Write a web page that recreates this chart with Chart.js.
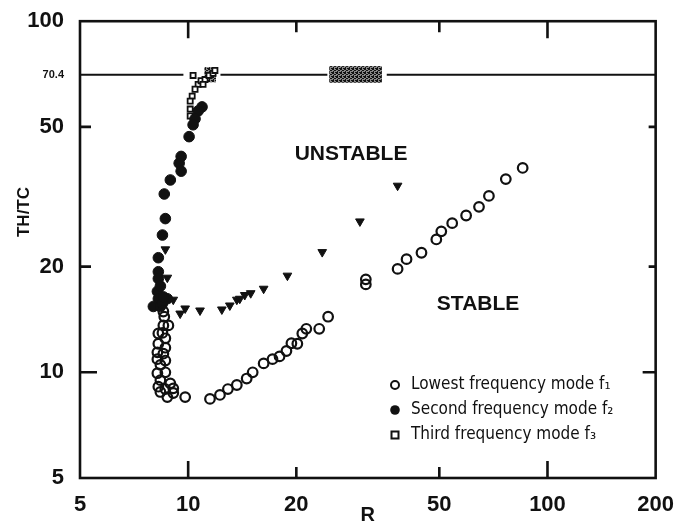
<!DOCTYPE html>
<html>
<head>
<meta charset="utf-8">
<script src="https://cdn.jsdelivr.net/npm/chart.js@4"></script>
<style>
  html, body { margin: 0; padding: 0; background: #fff; }
  #wrap { width: 680px; height: 527px; }
</style>
</head>
<body>
<div id="wrap"><canvas id="grafica" width="680" height="527"></canvas></div>
<script>
// valores (R, TH/TC)
const xTicks = [5, 10, 20, 50, 100, 200];
const yTicks = [5, 10, 20, 50, 70.4, 100];
const nivelRef = 70.4;

// modo f1 (circulos abiertos)
const f1R = [8.53, 8.58, 8.53, 8.81, 8.48, 8.26, 8.64, 8.26, 8.64, 8.21, 8.53, 8.21, 8.64, 8.37, 8.21, 8.64,
  8.37, 8.92, 8.26, 8.64, 9.09, 8.75, 9.09, 8.37, 9.81,
  11.5, 12.26, 12.9, 13.66, 14.55, 15.12, 16.22, 17.17, 17.96, 18.77, 19.38, 20.13, 20.78, 21.32, 23.16, 24.52,
  31.22, 31.22, 38.27, 40.53, 44.6, 49.05, 50.64, 54.3, 59.37, 64.48, 68.71, 76.56, 85.3];
const f1Ratio = [14.9, 14.4, 13.6, 13.6, 12.95, 12.9, 12.5, 12.06, 11.75, 11.4, 11.3, 10.9, 10.8, 10.5, 9.94, 10.0,
  9.5, 9.3, 9.1, 8.96, 9.0, 8.5, 8.73, 8.79, 8.5,
  8.4, 8.62, 8.96, 9.2, 9.6, 10.0, 10.6, 10.9, 11.1, 11.5, 12.1, 12.06, 12.9, 13.3, 13.3, 14.4,
  18.4, 17.8, 19.7, 21.0, 21.9, 23.9, 25.2, 26.6, 27.96, 29.6, 31.8, 35.5, 38.2];

// modo f2 (circulos llenos)
const f2R = [10.93, 10.66, 10.45, 10.32, 10.06, 9.56, 9.44, 9.56, 8.92, 8.58, 8.64, 8.48, 8.26, 8.26, 8.26,
  8.21, 8.26, 8.0, 8.37, 8.75, 8.48, 8.37, 8.53];
const f2Ratio = [57.0, 55.5, 52.7, 50.7, 46.9, 41.2, 39.4, 37.4, 35.3, 32.2, 27.4, 24.6, 21.2, 19.34, 18.49,
  17.0, 16.2, 15.4, 15.4, 16.2, 15.7, 17.6, 16.4];

// modo f3 (cuadrados)
const f3R = [10.32, 10.66, 10.45, 10.26, 10.13, 10.13, 10.13, 10.86, 11.14, 11.43, 11.73, 11.87, 11.0];
const f3Ratio = [70.06, 66.1, 64.0, 61.2, 59.2, 56.2, 53.7, 67.7, 68.2, 70.06, 71.0, 72.4, 66.1];

// triangulos invertidos
const triR = [8.64, 8.75, 9.09, 9.5, 9.81, 10.79, 12.41, 13.06, 13.66, 13.92, 14.37, 14.93, 16.22, 18.89, 23.61, 30.06, 38.27];
const triRatio = [22.4, 18.6, 16.1, 14.7, 15.2, 15.0, 15.1, 15.5, 16.1, 16.2, 16.6, 16.8, 17.3, 18.85, 22.0, 26.9, 34.0];

// tramos visibles de la linea 70.4
const tramosRef = [[5, 9.7], [12.3, 24.4], [35.7, 200]];
// zonas rayadas sobre la linea
const zonasRayadas = [
  { x0: 24.7, x1: 34.6, y0: 66.8, y1: 74.5 },
  { x0: 11.1, x1: 11.95, y0: 67.0, y1: 74.0 }
];

const leyenda = ["Lowest frequency mode f\u2081", "Second frequency mode f\u2082", "Third frequency mode f\u2083"];

const negro = "#111";
const fuente = "'Liberation Sans', Arial, sans-serif";

const zip = (xs, ys) => xs.map((x, i) => ({ x: x, y: ys[i] }));

const datasets = tramosRef.map(t => ({
  type: "line",
  data: [{ x: t[0], y: nivelRef }, { x: t[1], y: nivelRef }],
  borderColor: negro,
  borderWidth: 2,
  pointRadius: 0,
  order: 5
}));

datasets.push({
  label: leyenda[0],
  data: zip(f1R, f1Ratio),
  pointStyle: "circle",
  pointRadius: 4.8,
  borderWidth: 2.2,
  borderColor: negro,
  backgroundColor: "rgba(0,0,0,0)"
});
datasets.push({
  label: leyenda[1],
  data: zip(f2R, f2Ratio),
  pointStyle: "circle",
  pointRadius: 5.3,
  borderWidth: 1,
  borderColor: negro,
  backgroundColor: negro
});
datasets.push({
  label: leyenda[2],
  data: zip(f3R, f3Ratio),
  pointStyle: "rect",
  pointRadius: 3.6,
  borderWidth: 1.8,
  borderColor: negro,
  backgroundColor: "#fff"
});
datasets.push({
  label: "",
  data: zip(triR, triRatio),
  pointStyle: "triangle",
  rotation: 180,
  pointRadius: 5,
  borderWidth: 1,
  borderColor: negro,
  backgroundColor: negro
});

function patronRayado(ctx) {
  const c = document.createElement("canvas");
  c.width = 4; c.height = 4;
  const p = c.getContext("2d");
  p.fillStyle = "#888";
  p.fillRect(0, 0, 4, 4);
  p.fillStyle = "#111";
  p.fillRect(0, 0, 2, 2);
  p.fillRect(2, 2, 2, 1);
  p.fillRect(3, 0, 1, 1);
  p.fillRect(1, 3, 1, 1);
  return ctx.createPattern(c, "repeat");
}

const marcoPlugin = {
  id: "marco",
  beforeDatasetsDraw(chart) {
    const { ctx, chartArea: a, scales } = chart;
    const sx = scales.x, sy = scales.y;
    ctx.save();
    // zonas rayadas
    ctx.fillStyle = patronRayado(ctx);
    zonasRayadas.forEach(z => {
      const x0 = sx.getPixelForValue(z.x0), x1 = sx.getPixelForValue(z.x1);
      const y0 = sy.getPixelForValue(z.y1), y1 = sy.getPixelForValue(z.y0);
      ctx.fillRect(x0, y0, x1 - x0, y1 - y0);
    });
    // marco
    ctx.strokeStyle = negro;
    ctx.lineWidth = 2.6;
    ctx.strokeRect(a.left, a.top, a.right - a.left, a.bottom - a.top);
    // marcas hacia dentro
    const largo = v => (Math.abs(Math.log10(v) % 1) < 1e-6 ? 17 : 11);
    xTicks.slice(1, -1).forEach(v => {
      const px = sx.getPixelForValue(v);
      ctx.beginPath();
      ctx.moveTo(px, a.bottom); ctx.lineTo(px, a.bottom - largo(v));
      ctx.moveTo(px, a.top); ctx.lineTo(px, a.top + largo(v));
      ctx.stroke();
    });
    yTicks.filter(v => v !== 5 && v !== 100 && v !== nivelRef).forEach(v => {
      const py = sy.getPixelForValue(v);
      ctx.beginPath();
      ctx.moveTo(a.left, py); ctx.lineTo(a.left + largo(v), py);
      ctx.moveTo(a.right, py); ctx.lineTo(a.right - largo(v) + 4, py);
      ctx.stroke();
    });
    ctx.restore();
  },
  afterDatasetsDraw(chart) {
    const { ctx, scales } = chart;
    const sx = scales.x, sy = scales.y;
    ctx.save();
    ctx.fillStyle = negro;
    ctx.textAlign = "center";
    ctx.textBaseline = "middle";
    ctx.font = "bold 21px " + fuente;
    ctx.fillText("UNSTABLE", sx.getPixelForValue(28.4), sy.getPixelForValue(41.8));
    ctx.fillText("STABLE", sx.getPixelForValue(64.1), sy.getPixelForValue(15.6));

    // titulo eje y
    ctx.save();
    ctx.translate(24, 212);
    ctx.rotate(-Math.PI / 2);
    ctx.font = "bold 17px " + fuente;
    ctx.fillText("TH/TC", 0, 0);
    ctx.restore();

    // leyenda
    const simbX = 395, textoX = 411;
    const filas = [385, 410, 435];
    ctx.textAlign = "left";
    ctx.font = "17px 'DejaVu Sans Condensed', 'DejaVu Sans', sans-serif";
    leyenda.forEach((t, i) => {
      const y = filas[i];
      ctx.lineWidth = 2;
      ctx.strokeStyle = negro;
      ctx.fillStyle = negro;
      ctx.beginPath();
      if (i === 0) {
        ctx.arc(simbX, y, 4, 0, Math.PI * 2);
        ctx.stroke();
      } else if (i === 1) {
        ctx.arc(simbX, y, 4.8, 0, Math.PI * 2);
        ctx.fill();
      } else {
        ctx.strokeRect(simbX - 3.5, y - 3.5, 7, 7);
      }
      ctx.fillText(t, textoX, y);
    });
    ctx.restore();
  }
};

new Chart(document.getElementById("grafica").getContext("2d"), {
  type: "scatter",
  data: { datasets: datasets },
  options: {
    responsive: false,
    animation: false,
    layout: { padding: { top: 16, right: 21, left: 0, bottom: 0 } },
    plugins: { legend: { display: false }, tooltip: { enabled: false } },
    scales: {
      x: {
        type: "logarithmic",
        min: 5,
        max: 200,
        grid: { display: false },
        border: { display: false },
        afterBuildTicks: s => { s.ticks = xTicks.map(v => ({ value: v })); },
        afterFit: s => { s.height = 49; },
        ticks: {
          autoSkip: false,
          maxRotation: 0,
          padding: 6,
          color: negro,
          font: { family: fuente, size: 22, weight: "bold" },
          callback: v => String(v)
        },
        title: {
          display: true,
          text: "R",
          color: negro,
          padding: { top: 0, bottom: 0 },
          font: { family: fuente, size: 20, weight: "bold" }
        }
      },
      y: {
        type: "logarithmic",
        min: 5,
        max: 100,
        grid: { display: false },
        border: { display: false },
        afterBuildTicks: s => { s.ticks = yTicks.map(v => ({ value: v })); },
        afterFit: s => { s.width = 80; },
        ticks: {
          autoSkip: false,
          padding: 8,
          color: negro,
          font: c => (c.tick && c.tick.value === nivelRef
            ? { family: fuente, size: 11, weight: "bold" }
            : { family: fuente, size: 22, weight: "bold" }),
          callback: v => String(v)
        }
      }
    }
  },
  plugins: [marcoPlugin]
});
</script>
</body>
</html>
